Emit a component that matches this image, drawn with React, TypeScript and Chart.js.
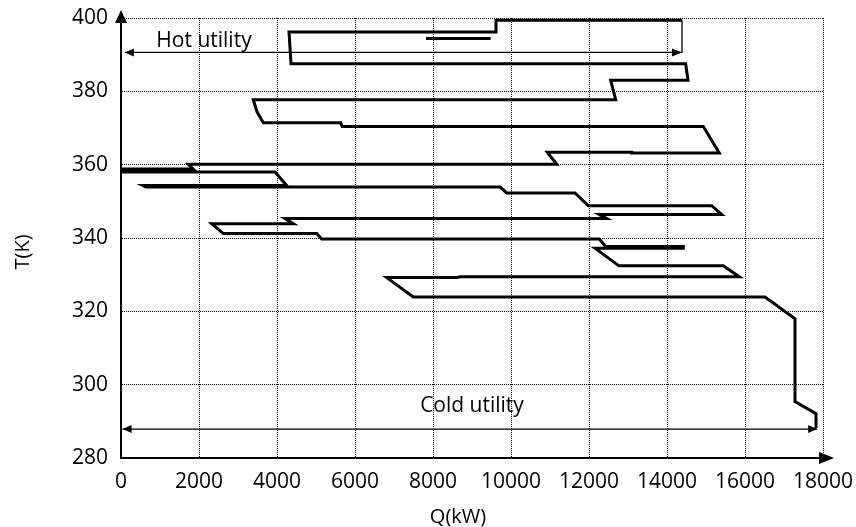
import React, { useEffect, useRef } from "react";
import { Chart, registerables } from "chart.js";

Chart.register(...registerables);

// Grand composite curve (Q in kW, T in K)
const gccQ = [14385, 9615, 9615, 4308, 4359, 14479, 14538, 12556, 12685, 3392, 3487, 3649, 5633, 5674, 14931, 15341, 13094, 13094, 10930, 11172, 1726, 1851, 0, 0, 3949, 4249, 564, 641, 9718, 9890, 11641, 11982, 15146, 15403, 12264, 12454, 4205, 4418, 2326, 2623, 5018, 5146, 12264, 12428, 14418, 14418, 12154, 12769, 15444, 15854, 8692, 8615, 6813, 7495, 16513, 17282, 17282, 17821, 17821];
const gccT = [399.4, 399.4, 396.2, 396.2, 387.5, 387.5, 383.0, 383.0, 377.7, 377.7, 374.4, 371.4, 371.4, 370.4, 370.4, 363.2, 363.2, 363.4, 363.4, 360.1, 360.1, 358.8, 358.8, 358.0, 358.0, 354.3, 354.3, 353.9, 353.9, 352.3, 352.3, 348.8, 348.8, 346.4, 346.4, 345.3, 345.3, 343.9, 343.9, 341.2, 341.2, 339.7, 339.7, 337.7, 337.7, 337.2, 337.2, 332.4, 332.4, 329.4, 329.4, 329.2, 329.2, 323.9, 323.9, 318.0, 295.4, 292.1, 288.2];

// Separate short segment near the top
const shortQ = [7821, 9479];
const shortT = [394.4, 394.4];

// Utility annotations
const hotUtilityQ = [14385, 14385, 100];
const hotUtilityT = [399.4, 390.6, 390.6];
const coldUtilityQ = [40, 17850];
const coldUtilityT = [287.9, 287.9];

const hotLabel = { text: "Hot utility", q: 2128, t: 393.6 };
const coldLabel = { text: "Cold utility", q: 9000, t: 294.1 };

const xTitle = "Q(kW)";
const yTitle = "T(K)";

const xMin = 0, xMax = 18000, xStep = 2000;
const yMin = 280, yMax = 400, yStep = 20;

const FONT = '"Open Sans", "DejaVu Sans", sans-serif';

const toPts = (qs: number[], ts: number[]) => qs.map((q, i) => ({ x: q, y: ts[i] }));

function arrowHead(ctx: CanvasRenderingContext2D, tx: number, ty: number, dx: number, dy: number, len: number, half: number) {
  const bx = tx - dx * len, by = ty - dy * len;
  const px = -dy, py = dx;
  ctx.beginPath();
  ctx.moveTo(tx, ty);
  ctx.lineTo(bx + px * half, by + py * half);
  ctx.lineTo(bx - px * half, by - py * half);
  ctx.closePath();
  ctx.fill();
}

const annotate = {
  id: "annotate",
  afterDatasetsDraw(chart: any) {
    const { ctx, chartArea, scales } = chart;
    const x = scales.x, y = scales.y;
    ctx.save();
    ctx.fillStyle = "#000";
    ctx.strokeStyle = "#000";
    // axis extensions with arrows
    ctx.lineWidth = 2;
    ctx.beginPath();
    ctx.moveTo(chartArea.left, chartArea.top);
    ctx.lineTo(chartArea.left, chartArea.top - 6);
    ctx.moveTo(chartArea.right, chartArea.bottom);
    ctx.lineTo(chartArea.right + 4, chartArea.bottom);
    ctx.stroke();
    arrowHead(ctx, chartArea.left, chartArea.top - 8, 0, -1, 13, 6);
    arrowHead(ctx, chartArea.right + 11, chartArea.bottom, 1, 0, 15, 6);

    // hot utility arrowheads
    const hy = y.getPixelForValue(hotUtilityT[1]);
    arrowHead(ctx, x.getPixelForValue(hotUtilityQ[1]), hy, 1, 0, 10, 4);
    arrowHead(ctx, x.getPixelForValue(hotUtilityQ[2]), hy, -1, 0, 9, 4);
    // cold utility arrowheads
    const cy = y.getPixelForValue(coldUtilityT[0]);
    arrowHead(ctx, x.getPixelForValue(coldUtilityQ[0]), cy, -1, 0, 9, 4);
    arrowHead(ctx, x.getPixelForValue(coldUtilityQ[1]), cy, 1, 0, 9, 4);

    // labels
    ctx.font = `21px ${FONT}`;
    ctx.textAlign = "center";
    ctx.textBaseline = "middle";
    ctx.fillText(hotLabel.text, x.getPixelForValue(hotLabel.q), y.getPixelForValue(hotLabel.t));
    ctx.fillText(coldLabel.text, x.getPixelForValue(coldLabel.q), y.getPixelForValue(coldLabel.t));

    // axis titles
    ctx.font = `20px ${FONT}`;
    ctx.fillText(xTitle, 458, 517);
    ctx.translate(23, 252);
    ctx.rotate(-Math.PI / 2);
    ctx.fillText(yTitle, 0, 0);
    ctx.restore();
  },
};

export default function App() {
  const ref = useRef<HTMLCanvasElement>(null);
  useEffect(() => {
    document.body.style.margin = "0";
    const canvas = ref.current!;
    const chart = new Chart(canvas, {
      type: "scatter",
      data: {
        datasets: [
          {
            data: toPts(gccQ, gccT),
            showLine: true,
            borderColor: "#000",
            borderWidth: 3,
            borderJoinStyle: "miter",
            pointRadius: 0,
            tension: 0,
          },
          {
            data: toPts(shortQ, shortT),
            showLine: true,
            borderColor: "#000",
            borderWidth: 3,
            pointRadius: 0,
          },
          {
            data: toPts(hotUtilityQ, hotUtilityT),
            showLine: true,
            borderColor: "#000",
            borderWidth: 1.3,
            pointRadius: 0,
          },
          {
            data: toPts(coldUtilityQ, coldUtilityT),
            showLine: true,
            borderColor: "#000",
            borderWidth: 1.3,
            pointRadius: 0,
          },
        ],
      },
      options: {
        responsive: false,
        animation: false,
        layout: { padding: { left: 0, right: 33, top: 18, bottom: 0 } },
        plugins: { legend: { display: false }, tooltip: { enabled: false } },
        scales: {
          x: {
            type: "linear",
            min: xMin,
            max: xMax,
            afterFit: (s: any) => { s.height = 69; s.paddingLeft = 0; s.paddingRight = 0; },
            ticks: { stepSize: xStep, color: "#000", font: { family: FONT, size: 21 }, padding: 11, maxRotation: 0, callback: (v: any) => String(v) },
            grid: { color: "#000", lineWidth: 1, drawTicks: false },
            border: { display: true, color: "#000", width: 2, dash: [1, 1] },
          },
          y: {
            type: "linear",
            min: yMin,
            max: yMax,
            afterFit: (s: any) => { s.width = 121; s.paddingTop = 0; s.paddingBottom = 0; },
            ticks: { stepSize: yStep, color: "#000", font: { family: FONT, size: 21 }, padding: 13, callback: (v: any) => String(v) },
            grid: { color: "#000", lineWidth: 1, drawTicks: false },
            border: { display: true, color: "#000", width: 2, dash: [1, 1] },
          },
        },
      },
      plugins: [annotate],
    });
    return () => chart.destroy();
  }, []);
  return (
    <div style={{ width: 856, height: 527 }}>
      <canvas ref={ref} width={856} height={527} />
    </div>
  );
}
